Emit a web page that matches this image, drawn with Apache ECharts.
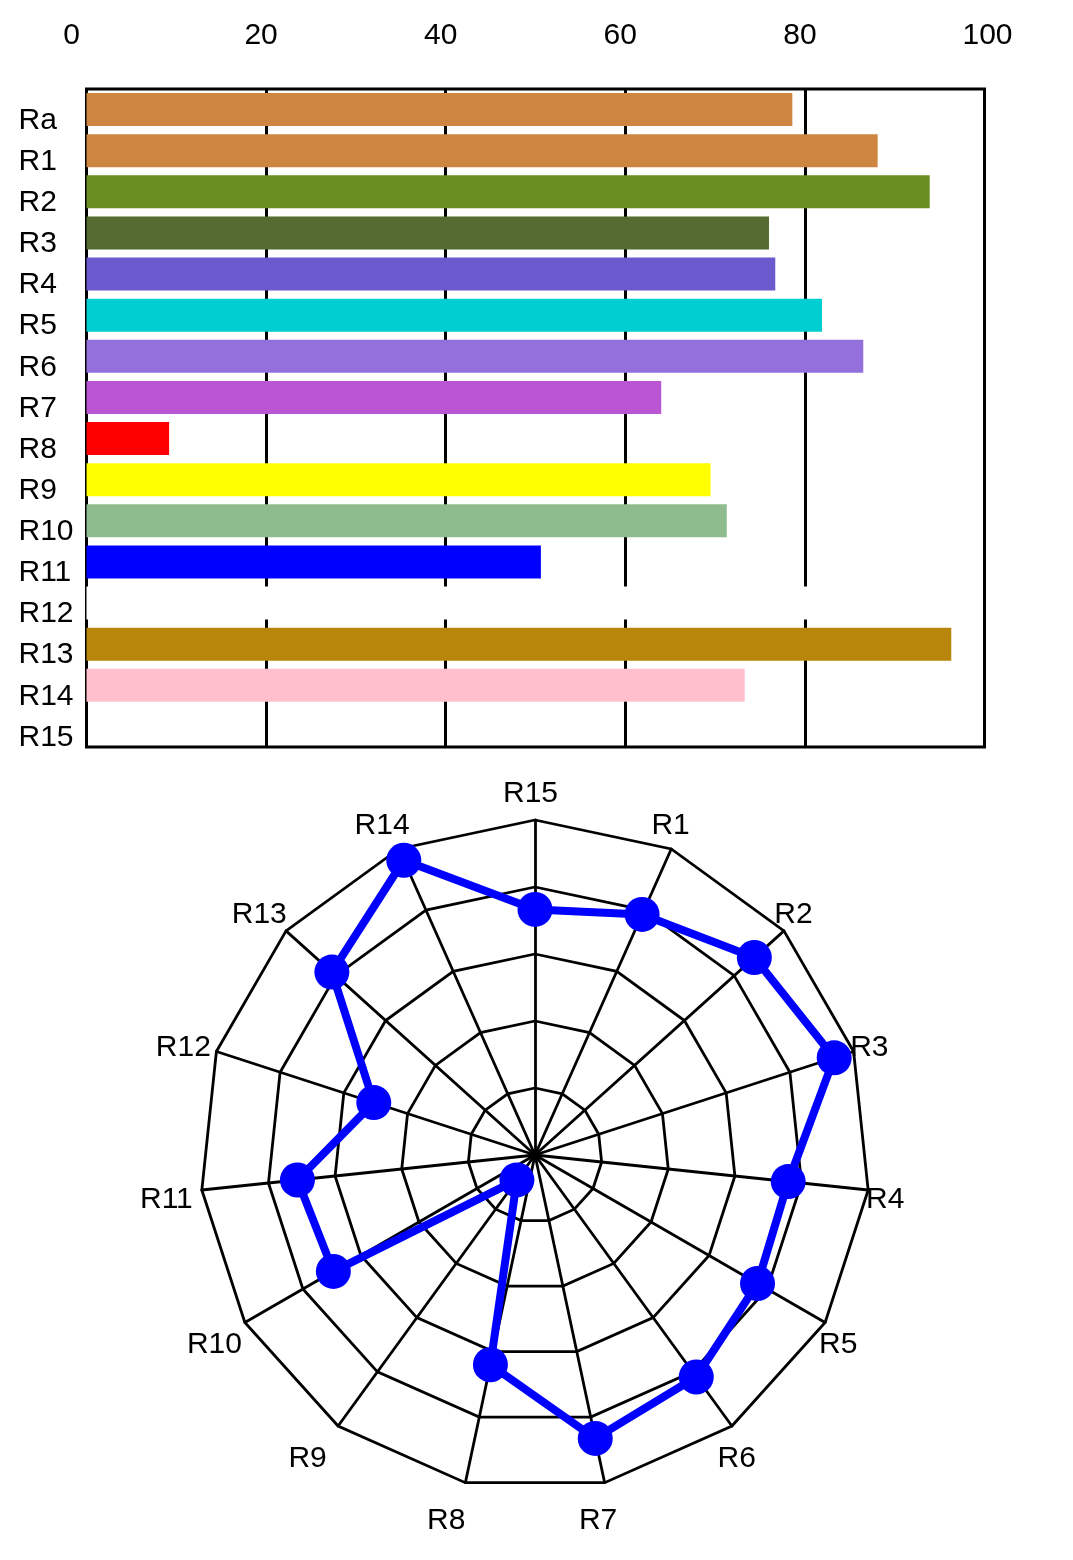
<!DOCTYPE html>
<html>
<head>
<meta charset="utf-8">
<script src="https://cdn.jsdelivr.net/npm/echarts@6/dist/echarts.min.js"></script>
<style>
  html, body { margin: 0; padding: 0; background: #fff; }
  #chart { width: 1073px; height: 1560px; }
</style>
</head>
<body>
<div id="chart"></div>
<script>
// categories of the bar panel, top to bottom
var barNames  = ["Ra","R1","R2","R3","R4","R5","R6","R7","R8","R9","R10","R11","R12","R13","R14","R15"];
var barValues = [78.6, 88.1, 93.9, 76.0, 76.7, 81.9, 86.5, 64.0, 9.2, 69.5, 71.3, 50.6, 81.6, 96.3, 73.3, null];
var barColors = ["#CD853F","#CD853F","#6B8E23","#556B2F","#6A5ACD","#00CED1","#9370DB","#BA55D3",
                 "#FF0000","#FFFF00","#8FBC8F","#0000FF","#FFFFFF","#B8860B","#FFC0CB","#FFFFFF"];
var xTicks = [0, 20, 40, 60, 80, 100];

// radar axes (R1..R15) carry the values of Ra..R14
var radarNames  = ["R1","R2","R3","R4","R5","R6","R7","R8","R9","R10","R11","R12","R13","R14","R15"];
var radarValues = [78.6, 88.1, 93.9, 76.0, 76.7, 81.9, 86.5, 64.0, 9.2, 69.5, 71.3, 50.6, 81.6, 96.3, 73.3];

var FONT = "'Liberation Sans', Arial, sans-serif";
var RADAR_CX = 535, RADAR_CY = 1155, RADAR_R = 335;
var chart = echarts.init(document.getElementById('chart'));

var barData = [];
for (var i = 0; i < barNames.length; i++) {
    barData.push({ value: barValues[i], itemStyle: { color: barColors[i] } });
}

// echarts radar goes counter-clockwise from the top, so feed R15, R14, ... R1
var indicators = [];
var radarData = [];
for (var j = radarNames.length - 1; j >= 0; j--) {
    indicators.push({ name: radarNames[j], min: 0, max: 100 });
    radarData.push(radarValues[j]);
}

// axis names of the radar: left edge a bit before a point just outside each spoke
var nameLabels = [];
for (var k = 0; k < indicators.length; k++) {
    var ang = (90 + k * 360 / indicators.length) * Math.PI / 180;
    nameLabels.push({
        type: 'text',
        x: RADAR_CX + 365 * Math.cos(ang) - 32,
        y: RADAR_CY - 367.5 * Math.sin(ang) + 6,
        style: {
            text: indicators[k].name,
            font: '30px ' + FONT,
            fill: '#000',
            textAlign: 'left',
            textVerticalAlign: 'middle'
        }
    });
}

var option = {
    backgroundColor: '#fff',
    animation: false,
    textStyle: { fontFamily: FONT, color: '#000' },
    grid: {
        left: 86.5,
        top: 89,
        width: 898,
        height: 658,
        show: true,
        borderColor: '#000',
        borderWidth: 3,
        backgroundColor: 'transparent'
    },
    xAxis: {
        type: 'value',
        position: 'top',
        min: xTicks[0],
        max: xTicks[xTicks.length - 1],
        interval: 20,
        axisLine: { show: false },
        axisTick: { show: false },
        axisLabel: {
            fontSize: 30,
            fontFamily: FONT,
            color: '#000',
            margin: 38,
            formatter: function (v) {
                if (v === 0) return '{a|' + v + '}';
                if (v === 100) return '{c|' + v + '}';
                return '{b|' + v + '}';
            },
            rich: {
                a: { fontSize: 30, fontFamily: FONT, color: '#000', padding: [0, 30, 0, 0] },
                b: { fontSize: 30, fontFamily: FONT, color: '#000', padding: [0, 10, 0, 0] },
                c: { fontSize: 30, fontFamily: FONT, color: '#000', padding: [0, 0, 0, 6] }
            }
        },
        splitLine: { show: true, lineStyle: { color: '#000', width: 3 } }
    },
    yAxis: {
        type: 'category',
        inverse: true,
        data: barNames,
        axisLine: { show: false },
        axisTick: { show: false },
        splitLine: { show: false },
        axisLabel: {
            fontSize: 30,
            fontFamily: FONT,
            color: '#000',
            align: 'left',
            verticalAlign: 'top',
            lineHeight: 22,
            margin: 68
        }
    },
    radar: {
        center: [RADAR_CX, RADAR_CY],
        radius: RADAR_R,
        startAngle: 90,
        splitNumber: 5,
        shape: 'polygon',
        indicator: indicators,
        axisName: { show: false },
        axisLine: { lineStyle: { color: '#000', width: 2.8 } },
        splitLine: { lineStyle: { color: '#000', width: 2.8 } },
        splitArea: { show: false },
        axisTick: { show: false },
        axisLabel: { show: false }
    },
    graphic: nameLabels,
    series: [
        {
            type: 'bar',
            data: barData,
            barCategoryGap: '20%',
            silent: true
        },
        {
            type: 'radar',
            symbol: 'circle',
            symbolSize: 35,
            lineStyle: { color: '#0000FF', width: 8 },
            itemStyle: { color: '#0000FF' },
            data: [{ value: radarData }]
        }
    ]
};

chart.setOption(option);
</script>
</body>
</html>
